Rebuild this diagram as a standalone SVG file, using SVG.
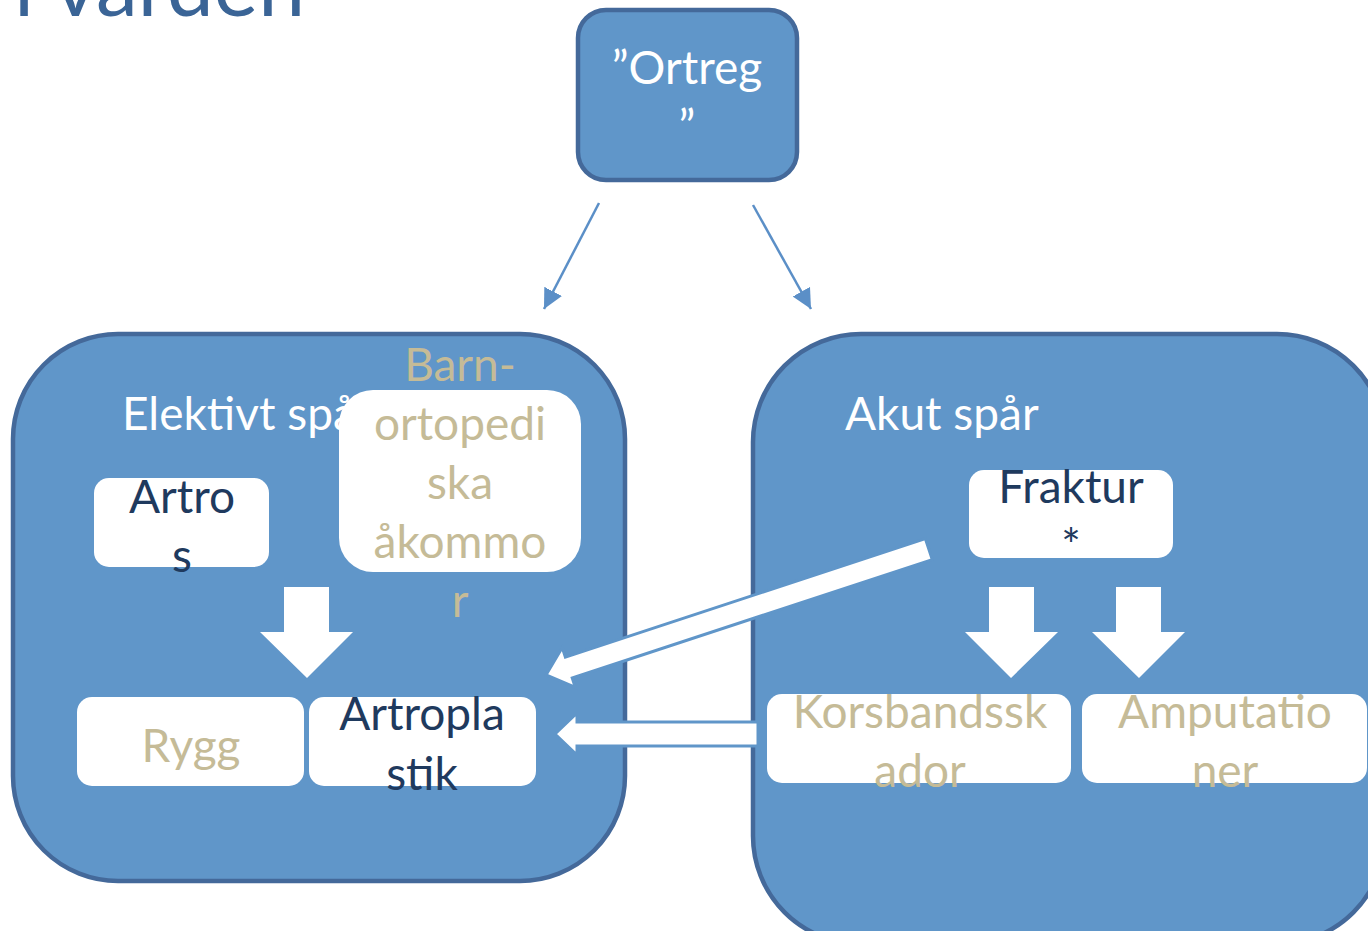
<svg xmlns="http://www.w3.org/2000/svg" width="1368" height="931" viewBox="0 0 1368 931">
<style>
.cont{fill:#6096c9;stroke:#44699a;stroke-width:4.5}
.box{fill:#ffffff}
.t{font-family:Lato,"Open Sans",sans-serif;font-size:46px;text-anchor:middle}
.w{fill:#ffffff}
.n{fill:#1f3a5e}
.tan{fill:#c5bb97}
.thin{stroke:#5b8fc7;stroke-width:2.5;fill:none}
.blk{fill:#ffffff}
.blko{fill:#ffffff;stroke:#6096c9;stroke-width:3}
</style>
<defs>
<marker id="ah" markerUnits="userSpaceOnUse" markerWidth="22" markerHeight="22" refX="18" refY="9" orient="auto" viewBox="0 0 20 18">
<path d="M0,0 L18,9 L0,18 Z" fill="#5b8fc7"/>
</marker>
</defs>
<rect width="1368" height="931" fill="#ffffff"/>
<text x="14" y="16" font-family="Lato,'Open Sans',sans-serif" font-size="84" fill="#3a6496">i vården</text>

<g id="ortreg">
<rect x="578" y="10" width="219" height="170" rx="28" class="cont"/>
<text class="t w" x="687" y="84">”Ortreg</text>
<text class="t w" x="687" y="143">”</text>
</g>

<g id="elektivt">
<rect x="13" y="334" width="612" height="547" rx="105" class="cont"/>
<text class="t w" x="122" y="430" style="text-anchor:start">Elektivt spår</text>
</g>

<g id="akut">
<rect x="753" y="334" width="632" height="610" rx="108" class="cont"/>
<text class="t w" x="845" y="430" style="text-anchor:start">Akut spår</text>
</g>

<g id="artros">
<rect x="94" y="478" width="175" height="89" rx="15" class="box"/>
<text class="t n" x="182" y="513">Artro</text>
<text class="t n" x="182" y="572">s</text>
</g>

<g id="barn">
<rect x="339" y="390" width="242" height="182" rx="34" class="box"/>
<text class="t tan" x="460" y="381">Barn-</text>
<text class="t tan" x="460" y="440">ortopedi</text>
<text class="t tan" x="460" y="499">ska</text>
<text class="t tan" x="460" y="558">åkommo</text>
<text class="t tan" x="460" y="617">r</text>
</g>

<g id="rygg">
<rect x="77" y="697" width="227" height="89" rx="15" class="box"/>
<text class="t tan" x="191" y="762">Rygg</text>
</g>

<g id="artroplastik">
<rect x="309" y="697" width="227" height="89" rx="15" class="box"/>
<text class="t n" x="422" y="730">Artropla</text>
<text class="t n" x="422" y="790">stik</text>
</g>

<g id="fraktur">
<rect x="969" y="470" width="204" height="88" rx="15" class="box"/>
<text class="t n" x="1071" y="503">Fraktur</text>
<text class="t n" x="1071" y="562">*</text>
</g>

<g id="korsband">
<rect x="767" y="694" width="304" height="89" rx="15" class="box"/>
<text class="t tan" x="920" y="728">Korsbandssk</text>
<text class="t tan" x="920" y="787">ador</text>
</g>

<g id="amputation">
<rect x="1082" y="694" width="285" height="89" rx="15" class="box"/>
<text class="t tan" x="1225" y="728">Amputatio</text>
<text class="t tan" x="1225" y="787">ner</text>
</g>

<g id="connectors">
<line class="thin" x1="599" y1="203" x2="544" y2="309" marker-end="url(#ah)"/>
<line class="thin" x1="753" y1="205" x2="811" y2="309" marker-end="url(#ah)"/>
<polygon class="blk" points="284,587 329,587 329,632 353,632 307,678 260,632 284,632"/>
<polygon class="blk" points="989,587 1034,587 1034,632 1058,632 1011,678 965,632 989,632"/>
<polygon class="blk" points="1116,587 1161,587 1161,632 1185,632 1139,678 1092,632 1116,632"/>
<polygon class="blko" points="555,734 577,713 577,722 758,722 758,746 577,746 577,755"/>
<polygon class="blko" transform="translate(546,675) rotate(-18.2)" points="0,0 24,-21 24,-11 403,-11 403,11 24,11 24,21"/>
</g>
</svg>
